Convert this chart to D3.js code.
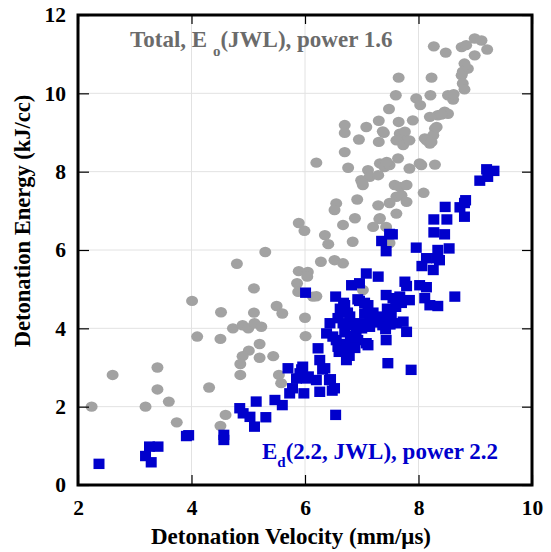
<!DOCTYPE html>
<html>
<head>
<meta charset="utf-8">
<script src="https://cdn.jsdelivr.net/npm/d3@7"></script>
<style>
  body { margin: 0; background: #fff; }
  #chart { width: 551px; height: 552px; }
  text { font-family: "Liberation Serif", "Times New Roman", serif; font-weight: bold; }
</style>
</head>
<body>
<div id="chart"></div>
<script>
// Total energy, Eo(JWL) -- gray circles
const totalVel = [
  2.24, 2.61, 3.19, 3.40, 3.40, 3.60, 3.74, 4.01, 4.10, 4.31, 4.51, 4.51, 4.60, 4.52,
  4.73, 4.90, 5.00, 5.11, 5.23, 5.20, 5.01, 4.90, 4.86, 4.86, 5.20, 5.44, 5.54, 5.58,
  4.80, 5.10, 5.10, 5.50, 5.60, 5.30, 6.01, 6.00, 5.89, 5.99, 5.89, 6.05, 6.04, 5.86,
  5.88, 6.20, 6.14, 6.28, 6.35, 6.41, 6.55, 6.52, 6.67, 6.88, 6.92, 6.84, 6.52, 6.67,
  7.02, 6.20, 6.70, 6.76, 6.70, 6.70, 7.08, 6.95, 7.30, 7.30, 7.39, 7.65, 7.90, 7.48,
  7.60, 7.65, 7.96, 8.03, 8.21, 8.23, 8.27, 8.48, 8.76, 8.84, 8.99, 9.11, 8.99, 9.21,
  8.81, 8.87, 8.78, 8.76, 8.78, 8.81, 8.52, 8.61, 8.46, 8.34, 8.20, 8.29, 8.26, 8.11,
  8.20, 8.05, 8.29, 8.09, 7.11, 6.99, 7.02, 7.32, 7.40, 7.49, 7.64, 7.84, 8.02, 7.58,
  7.67, 7.79, 7.61, 7.70, 7.29, 7.49, 7.61, 7.79, 7.32, 7.20, 7.43, 7.14, 7.29, 7.67,
  7.76, 7.79, 7.61, 7.73, 7.84, 8.32, 8.14, 8.23, 8.52, 7.49, 7.31, 7.01, 7.37, 7.44,
  8.62, 8.40
];
const totalEnergy = [
  2.00, 2.81, 2.00, 3.00, 2.44, 2.13, 1.60, 4.70, 3.79, 2.49, 3.73, 1.51, 1.79, 4.41,
  4.00, 4.08, 4.00, 4.13, 4.04, 3.60, 3.43, 3.29, 3.09, 2.81, 3.25, 3.29, 2.81, 2.60,
  5.65, 5.02, 4.40, 4.57, 4.38, 5.95, 3.80, 4.27, 6.69, 6.49, 5.46, 5.44, 5.32, 5.15,
  4.93, 4.82, 4.81, 5.70, 6.38, 6.15, 7.19, 7.02, 6.64, 6.81, 7.29, 6.21, 5.74, 5.66,
  4.98, 8.23, 8.50, 8.10, 9.19, 8.99, 9.14, 8.82, 9.30, 8.76, 8.99, 9.27, 9.31, 9.60,
  9.95, 10.40, 9.87, 9.70, 9.95, 10.40, 11.20, 11.04, 11.18, 11.23, 11.40, 11.35, 10.97, 11.12,
  10.76, 10.63, 10.55, 10.46, 10.25, 10.10, 9.95, 9.84, 9.53, 9.44, 9.40, 9.10, 8.93, 8.85,
  8.72, 8.17, 8.18, 7.46, 8.04, 7.78, 7.66, 8.21, 8.12, 8.17, 8.34, 8.08, 8.21, 7.66,
  7.61, 7.66, 7.36, 7.40, 7.14, 7.20, 6.93, 7.23, 6.81, 6.59, 6.59, 7.87, 7.91, 8.97,
  9.02, 8.80, 8.80, 8.68, 8.80, 9.14, 8.80, 8.76, 9.48, 6.18, 6.79, 7.71, 9.03, 8.25,
  9.98, 9.46
];

// Ed(2.2, JWL) -- blue squares
const edVel = [
  2.37, 3.19, 3.26, 3.41, 3.29, 3.91, 3.95, 4.57, 4.57, 4.85, 4.91, 5.03, 5.11, 5.14,
  5.31, 5.47, 5.60, 5.70, 5.73, 5.78, 5.85, 5.91, 5.96, 5.98, 6.23, 6.26, 6.35, 6.02,
  6.20, 6.43, 6.52, 6.26, 6.54, 6.73, 6.76, 6.58, 6.38, 6.49, 6.82, 6.93, 7.11, 7.14,
  7.43, 7.46, 7.87, 7.79, 7.61, 7.37, 6.85, 6.01, 6.54, 6.70, 6.96, 7.11, 7.43, 7.55,
  7.67, 6.58, 6.79, 7.05, 7.14, 7.35, 7.52, 6.44, 6.67, 6.96, 7.49, 7.35, 7.43, 7.08,
  7.29, 6.82, 6.96, 7.76, 7.79, 8.02, 8.14, 8.11, 8.20, 8.34, 8.64, 7.84, 7.61, 7.73,
  7.96, 8.34, 8.54, 8.14, 8.32, 8.37, 8.06, 8.26, 7.54, 8.27, 8.50, 8.27, 8.46, 8.47,
  8.73, 8.81, 8.81, 8.83, 9.08, 9.20, 9.33, 9.22, 6.48, 6.68, 6.93, 7.05, 7.08, 7.42,
  6.60, 6.65, 6.70, 6.75, 6.62, 6.80, 6.90, 7.00, 7.20, 7.30, 7.45, 7.60, 7.70, 7.50,
  7.25, 6.55, 6.31, 6.45, 5.94, 6.06, 6.78, 6.88
];
const edEnergy = [
  0.54, 0.74, 0.98, 0.98, 0.58, 1.25, 1.27, 1.28, 1.15, 1.96, 1.83, 1.74, 1.49, 2.13,
  1.73, 2.17, 2.04, 2.98, 2.34, 2.47, 2.72, 2.85, 3.02, 2.34, 3.49, 3.19, 2.98, 2.72,
  2.68, 2.68, 2.47, 2.38, 1.79, 3.19, 3.40, 3.53, 3.87, 3.79, 3.57, 3.70, 3.57, 4.04,
  3.70, 3.11, 2.94, 3.91, 4.13, 4.08, 4.08, 4.91, 4.81, 4.59, 4.70, 4.59, 4.85, 4.77,
  4.81, 4.26, 4.30, 4.38, 4.21, 4.26, 4.30, 4.13, 4.13, 4.13, 6.41, 6.23, 5.97, 5.40,
  5.32, 5.10, 5.15, 5.19, 5.08, 5.10, 5.05, 4.77, 4.59, 4.57, 4.81, 4.72, 4.72, 4.17,
  6.06, 6.00, 6.04, 5.79, 5.79, 5.74, 5.59, 5.49, 6.40, 6.78, 6.78, 6.45, 6.40, 7.10,
  7.09, 7.20, 6.85, 7.27, 7.77, 8.06, 8.02, 7.87, 2.41, 4.65, 4.74, 4.65, 3.62, 3.98,
  3.40, 3.60, 3.90, 4.40, 4.50, 3.80, 3.95, 4.00, 4.40, 4.30, 4.50, 4.55, 4.65, 4.10,
  4.15, 3.70, 2.95, 2.70, 2.95, 2.77, 3.30, 3.50
];

const xTicks = [2, 4, 6, 8, 10];
const yTicks = [0, 2, 4, 6, 8, 10, 12];

const width = 551, height = 552;
const margin = {top: 15, right: 19, bottom: 67, left: 78};

const svg = d3.select("#chart")
  .append("svg")
    .attr("width", width)
    .attr("height", height);

const x = d3.scaleLinear().domain([2, 10]).range([margin.left, width - margin.right]);
const y = d3.scaleLinear().domain([0, 12]).range([height - margin.bottom, margin.top]);

// grid lines
const grid = svg.append("g").attr("stroke", "#e2e2e2").attr("stroke-width", 1);
grid.selectAll("line.vx")
  .data(xTicks.slice(1, -1))
  .join("line")
    .attr("x1", d => x(d)).attr("x2", d => x(d))
    .attr("y1", y(0)).attr("y2", y(12));
grid.selectAll("line.hy")
  .data(yTicks.slice(1, -1))
  .join("line")
    .attr("x1", x(2)).attr("x2", x(10))
    .attr("y1", d => y(d)).attr("y2", d => y(d));

// gray circles (total energy)
const totalData = totalVel.map((v, i) => ({v: v, e: totalEnergy[i]}));
svg.append("g")
  .selectAll("ellipse")
  .data(totalData)
  .join("ellipse")
    .attr("cx", d => x(d.v))
    .attr("cy", d => y(d.e))
    .attr("rx", 6)
    .attr("ry", 5.2)
    .style("fill", "#a2a2a2");

// blue squares (Ed)
const edData = edVel.map((v, i) => ({v: v, e: edEnergy[i]}));
const sq = 11;
svg.append("g")
  .selectAll("rect")
  .data(edData)
  .join("rect")
    .attr("x", d => x(d.v) - sq / 2)
    .attr("y", d => y(d.e) - 5.2)
    .attr("width", sq)
    .attr("height", 10.4)
    .style("fill", "#0000cc");

// axes, ticks pointing inward
const fmt = d3.format("d");
const axisFont = g => g.selectAll("text")
  .style("font-size", "21.5px")
  .style("font-family", "'Liberation Serif', serif")
  .style("font-weight", "bold")
  .attr("fill", "#000");

svg.append("g")
  .attr("transform", `translate(0,${y(0)})`)
  .call(d3.axisBottom(x).tickValues(xTicks).tickFormat(fmt).tickSizeInner(-10).tickSizeOuter(0).tickPadding(15))
  .call(g => g.select(".domain").remove())
  .call(g => g.selectAll("line").attr("stroke", "#000").attr("stroke-width", 1.2))
  .call(axisFont);

svg.append("g")
  .attr("transform", `translate(${x(2)},0)`)
  .call(d3.axisLeft(y).tickValues(yTicks).tickFormat(fmt).tickSizeInner(-11).tickSizeOuter(0).tickPadding(12))
  .call(g => g.select(".domain").remove())
  .call(g => g.selectAll("line").attr("stroke", "#000").attr("stroke-width", 1.2))
  .call(axisFont);

svg.append("g")
  .attr("transform", `translate(0,${y(12)})`)
  .call(d3.axisTop(x).tickValues(xTicks).tickSizeInner(-9).tickSizeOuter(0).tickFormat(""))
  .call(g => g.select(".domain").remove())
  .call(g => g.selectAll("line").attr("stroke", "#000").attr("stroke-width", 1.2));

svg.append("g")
  .attr("transform", `translate(${x(10)},0)`)
  .call(d3.axisRight(y).tickValues(yTicks).tickSizeInner(-10).tickSizeOuter(0).tickFormat(""))
  .call(g => g.select(".domain").remove())
  .call(g => g.selectAll("line").attr("stroke", "#000").attr("stroke-width", 1.2));

// frame
svg.append("rect")
  .attr("x", x(2))
  .attr("y", y(12))
  .attr("width", x(10) - x(2))
  .attr("height", y(0) - y(12))
  .attr("fill", "none")
  .attr("stroke", "#000")
  .attr("stroke-width", 3);

// axis titles
svg.append("text")
  .attr("x", 291)
  .attr("y", 544)
  .attr("text-anchor", "middle")
  .style("font-size", "23px")
  .text("Detonation Velocity (mm/μs)");

svg.append("text")
  .attr("transform", "translate(30,221) rotate(-90)")
  .attr("text-anchor", "middle")
  .style("font-size", "22.5px")
  .text("Detonation Energy (kJ/cc)");

// series labels
const lab1 = svg.append("text")
  .attr("x", 130)
  .attr("y", 47)
  .style("font-size", "23px")
  .attr("fill", "#6b6b6b");
lab1.append("tspan").text("Total, E ");
lab1.append("tspan").attr("dy", 9).style("font-size", "15px").text("o");
lab1.append("tspan").attr("dy", -9).text("(JWL), power 1.6");

const lab2 = svg.append("text")
  .attr("x", 262)
  .attr("y", 459)
  .style("font-size", "23px")
  .attr("fill", "#0000cc");
lab2.append("tspan").text("E");
lab2.append("tspan").attr("dy", 8).style("font-size", "15px").text("d");
lab2.append("tspan").attr("dy", -8).text("(2.2, JWL), power 2.2");
</script>
</body>
</html>
